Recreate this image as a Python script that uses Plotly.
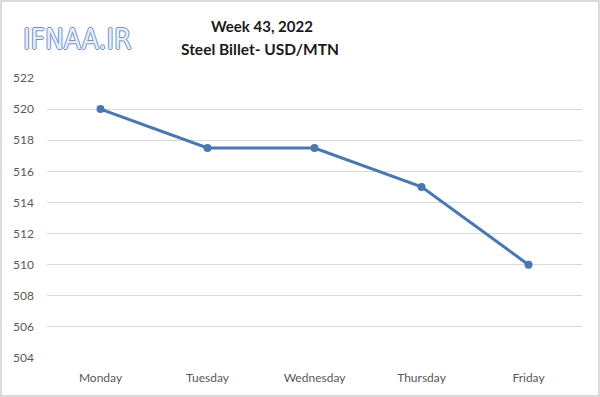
import plotly.graph_objects as go

days = ["Monday", "Tuesday", "Wednesday", "Thursday", "Friday"]
prices = [520, 517.5, 517.5, 515, 510]
y_ticks = [504, 506, 508, 510, 512, 514, 516, 518, 520, 522]

W, H = 600, 397
L, R, T, B = 47, 18, 78, 39
pw, ph = W - L - R, H - T - B

fig = go.Figure()
fig.add_trace(go.Scatter(
    x=days, y=prices, mode="lines+markers",
    line=dict(color="#4a77b0", width=3),
    marker=dict(color="#4a77b0", size=8),
    showlegend=False, hoverinfo="skip",
))

fig.update_layout(
    width=W, height=H,
    margin=dict(l=L, r=R, t=T, b=B),
    paper_bgcolor="white", plot_bgcolor="white",
    font=dict(family="Lato, Open Sans, sans-serif", color="#595959", size=12),
    xaxis=dict(range=[-0.5, 4.5], showgrid=False, showline=False, zeroline=False,
               ticks="", tickfont=dict(size=12, color="#595959"), ticklabelstandoff=11),
    yaxis=dict(range=[504, 522], tickvals=y_ticks, showgrid=True, gridcolor="#d9d9d9",
               gridwidth=1, zeroline=False, showline=False, ticks="",
               tickfont=dict(size=12, color="#595959"), ticklabelstandoff=12),
    annotations=[
        dict(text="<b>Week 43, 2022</b>", xref="paper", yref="paper",
             x=(262 - L) / pw, y=1 + (T - 26) / ph, yanchor="middle", showarrow=False,
             font=dict(size=15, color="#1a1a1a", family="Lato, sans-serif")),
        dict(text="<b>Steel Billet- USD/MTN</b>", xref="paper", yref="paper",
             x=(260 - L) / pw, y=1 + (T - 49) / ph, yanchor="middle", showarrow=False,
             font=dict(size=15.5, color="#1a1a1a", family="Lato, sans-serif")),
        dict(text="IFNAA.IR", xref="paper", yref="paper",
             x=(21 - L) / pw, y=1 + (T - 39) / ph, xanchor="left", yanchor="middle", showarrow=False,
             font=dict(size=28, color="#e6eefa", family="Liberation Sans Narrow, DejaVu Sans Condensed, sans-serif",
                       shadow="1px 0 0 #6f8fc6, -1px 0 0 #6f8fc6, 0 1px 0 #6f8fc6, 0 -1px 0 #6f8fc6")),
    ],
    shapes=[
        dict(type="rect", xref="paper", yref="paper",
             x0=-(L - 1) / pw, x1=1 + (R - 1) / pw, y0=-(B - 1) / ph, y1=1 + (T - 1) / ph,
             line=dict(color="#d0d0d0", width=1.5), fillcolor="rgba(0,0,0,0)", layer="below"),
    ],
)

fig.write_html("out.html", config={"displayModeBar": False},
               post_script="document.body.style.margin='0';document.body.style.overflow='hidden';")
